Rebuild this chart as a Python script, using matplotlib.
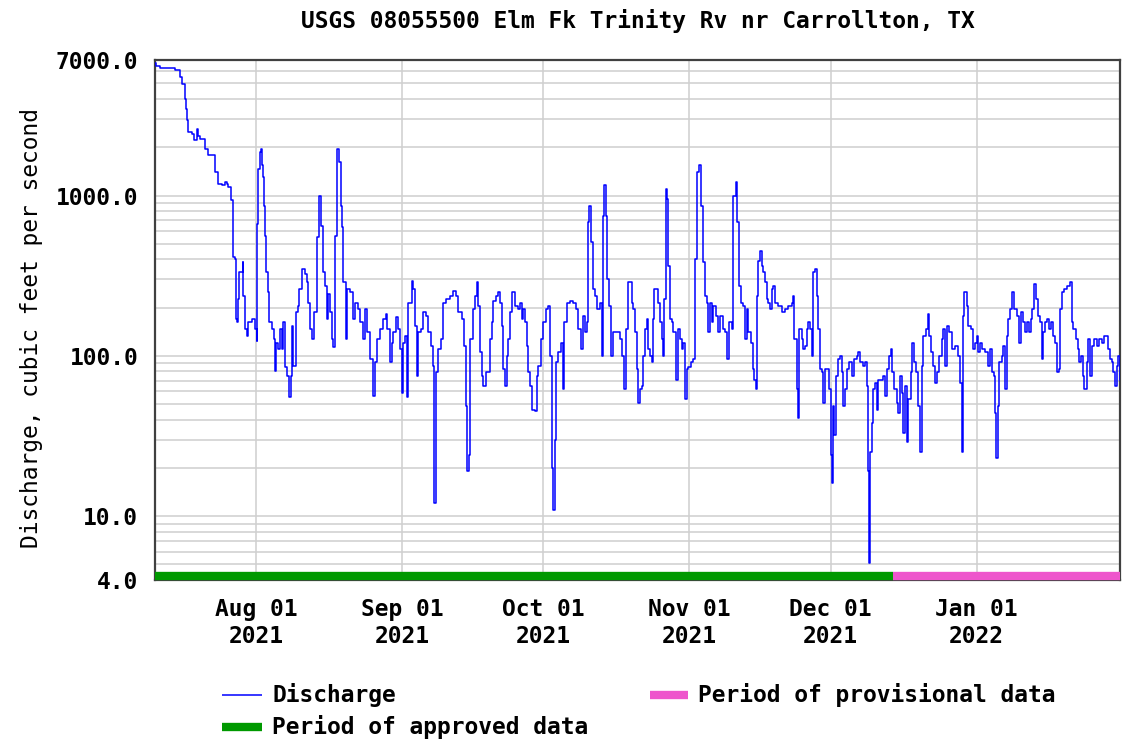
import datetime as dt
import matplotlib
matplotlib.use("Agg")
import matplotlib.pyplot as plt
import matplotlib.dates as mdates
from matplotlib.lines import Line2D
from matplotlib.ticker import FixedLocator, LogLocator, NullFormatter, FuncFormatter

plt.rcParams["font.family"] = "DejaVu Sans Mono"
plt.rcParams["font.weight"] = "bold"
plt.rcParams["font.size"] = 16.5

title = "USGS 08055500 Elm Fk Trinity Rv nr Carrollton, TX"
y_label = "Discharge, cubic feet per second"

# discharge: day of month (fractional) and cfs
jul_day = [10.56, 10.8, 11.5, 13.0, 14.8, 15.15, 15.9, 16.36, 16.93, 17.07, 17.3, 17.63, 18.34,
           18.83, 19.4, 19.75, 20.11, 21.17, 21.88, 23.08, 23.3, 24.0, 24.7, 25.4, 25.77, 26.13,
           26.69, 27.05, 27.1, 27.54, 27.7, 27.8, 28.04, 28.25, 28.46, 28.96, 29.17, 29.31, 29.66,
           30.02, 30.37, 31.08, 31.79]
jul_cfs = [6700, 6450, 6250, 6200, 6100, 6040, 5490, 4990, 4020, 3480, 2940, 2490, 2430,
           2210, 2610, 2350, 2260, 1960, 1780, 1780, 1400, 1180, 1160, 1210, 1180, 1130,
           931, 909, 412, 402, 237, 169, 162, 226, 332, 332, 383, 237, 147,
           133, 162, 169, 147]

aug_day = [1.14, 1.2, 1.5, 1.85, 2.06, 2.27, 2.42, 2.7, 2.91, 3.12, 3.62, 3.83, 4.33, 4.82, 5.03,
           5.25, 5.74, 6.1, 6.45, 6.8, 7.16, 7.65, 8.08, 8.36, 8.57, 8.93, 9.42, 9.85, 10.2, 10.7,
           11.4, 11.76, 12.11, 12.47, 12.96, 13.38, 13.88, 14.38, 14.8, 15.16, 15.65, 16.0, 16.36,
           16.7, 17.07, 17.42, 17.77, 18.27, 18.7, 18.98, 19.33, 19.55, 20.04, 20.4, 20.96, 21.52,
           22.02, 22.73, 23.08, 23.65, 24.14, 24.63, 25.2, 25.77, 26.27, 26.62, 27.33, 27.9, 28.6,
           28.88, 29.45, 29.8, 30.15, 30.72, 31.2, 31.57, 31.93]
aug_cfs = [124, 665, 1468, 1870, 1960, 1540, 1302, 866, 562, 332, 249, 162, 147, 127, 81,
           121, 110, 147, 110, 162, 85, 75, 55, 75, 154, 87, 187, 205, 261, 348,
           324, 287, 215, 147, 127, 187, 549, 1000, 649, 332, 274, 169, 243,
           187, 127, 113, 562, 1960, 1616, 866, 634, 287, 127, 261, 249, 169,
           215, 196, 162, 127, 196, 140, 95, 56, 91, 127, 147, 169, 182,
           147, 91, 121, 140, 174, 147, 110, 59]

sep_day = [1.28, 1.63, 2.0, 2.34, 3.05, 3.4, 3.76, 4.11, 4.46, 5.03, 5.52, 6.09, 6.58, 7.09, 7.52,
           7.79, 7.95, 8.22, 8.7, 9.2, 9.64, 10.34, 11.19, 11.9, 12.46, 12.96, 13.67, 14.16, 14.52,
           14.86, 15.16, 15.44, 16.0, 16.5, 16.86, 17.2, 17.56, 17.91, 18.26, 18.83, 19.32, 19.68,
           20.04, 20.38, 20.96, 21.45, 21.8, 22.16, 22.5, 22.87, 23.23, 23.57, 23.93, 24.42, 24.99,
           25.7, 26.05, 26.4, 26.76, 27.11, 27.47, 27.82, 28.17, 28.53, 29.24, 29.6, 29.94, 30.44]
sep_cfs = [121, 133, 55, 215, 294, 261, 154, 75, 140, 147, 187, 178, 140, 115, 87,
           12, 12, 79, 110, 127, 215, 226, 237, 255, 237, 187, 169, 115, 49,
           19, 24, 127, 196, 237, 287, 205, 105, 75, 65, 79, 79, 127,
           162, 221, 237, 249, 215, 154, 83, 65, 100, 127, 187, 249, 205,
           196, 215, 169, 196, 162, 115, 79, 65, 46, 45, 75, 87, 127]

oct_day = [1.0, 1.57, 1.93, 2.42, 2.78, 3.12, 3.48, 3.69, 4.18, 4.69, 5.12, 5.46, 5.97, 6.67, 7.37,
           7.94, 8.43, 8.94, 9.36, 9.85, 10.21, 10.42, 10.76, 11.12, 11.48, 11.97, 12.46, 13.04,
           13.39, 13.6, 13.89, 14.31, 14.59, 15.0, 15.37, 15.73, 16.58, 17.28, 17.64, 18.13, 18.49,
           19.05, 19.76, 20.11, 20.47, 20.83, 21.17, 21.53, 21.89, 22.23, 22.59, 22.95, 23.3, 23.65,
           24.01, 24.35, 24.5, 25.07, 25.42, 25.77, 26.13, 26.48, 26.69, 26.98, 27.32, 27.54, 27.9,
           28.26, 28.6, 29.17, 29.53, 30.02, 30.38, 30.72, 31.08, 31.44, 31.78]
oct_cfs = [162, 196, 205, 100, 20, 11, 30, 91, 105, 121, 62, 162, 215, 221, 215,
           196, 147, 110, 178, 140, 162, 681, 866, 511, 261, 237, 196, 215,
           100, 750, 1155, 750, 301, 205, 100, 140, 140, 127, 100, 62, 147,
           287, 215, 196, 140, 83, 51, 62, 65, 100, 147, 169, 110, 100,
           91, 169, 261, 261, 215, 162, 127, 100, 226, 1101, 953, 365, 169,
           162, 140, 71, 147, 127, 110, 121, 54, 83, 85]

nov_day = [1.29, 1.85, 2.21, 2.7, 3.12, 3.42, 3.84, 4.33, 4.82, 5.03, 5.39, 5.75, 6.09, 6.66, 7.15,
           7.51, 8.08, 8.58, 9.06, 9.49, 10.0, 10.34, 10.91, 11.19, 11.55, 11.97, 12.46, 12.82,
           13.18, 13.52, 14.03, 14.46, 14.8, 15.16, 15.31, 15.65, 16.01, 16.37, 16.71, 17.07, 17.43,
           17.77, 18.13, 18.49, 18.83, 19.19, 19.9, 20.61, 21.31, 22.02, 22.74, 23.08, 23.29, 23.79,
           24.14, 24.36, 24.86, 25.2, 25.56, 25.92, 26.27, 26.62, 26.98, 27.33, 27.68, 28.04, 28.39,
           28.75, 29.11, 29.45, 29.81, 30.3, 30.73]
nov_cfs = [91, 95, 402, 1399, 1540, 866, 383, 237, 215, 140, 215, 162, 205, 178, 140,
           178, 147, 140, 95, 162, 147, 1000, 1212, 681, 274, 215, 205, 127,
           196, 140, 121, 83, 71, 62, 237, 392, 453, 365, 332, 287, 226,
           215, 196, 261, 274, 215, 205, 187, 196, 205, 215, 237, 127, 62,
           41, 147, 127, 110, 115, 147, 162, 147, 100, 332, 348, 237, 147,
           83, 79, 51, 83, 83, 62]

dec_day = [1.02, 1.23, 1.44, 1.78, 2.14, 2.63, 2.99, 3.35, 3.69, 4.05, 4.41, 4.97, 5.48, 5.96, 6.53,
           6.87, 7.24, 7.81, 8.3, 8.65, 8.99, 9.08, 9.36, 9.72, 10.06, 10.42, 10.78, 11.12, 11.48,
           12.05, 12.55, 12.91, 13.46, 13.76, 13.97, 14.46, 15.03, 15.37, 15.73, 16.09, 16.43, 16.79,
           17.15, 17.49, 18.0, 18.35, 18.7, 19.13, 19.62, 19.98, 20.34, 20.68, 21.25, 21.61, 21.96,
           22.31, 22.8, 23.16, 23.52, 24.08, 24.59, 24.93, 25.28, 25.64, 26.2, 26.71, 27.41, 27.98,
           28.47, 28.83, 29.04, 29.38, 29.89, 30.24, 30.8, 31.3, 31.65]
dec_cfs = [24, 16, 49, 32, 75, 95, 100, 79, 49, 62, 83, 91, 75, 95, 100,
           105, 91, 87, 91, 65, 19, 5.1, 25, 38, 62, 68, 46, 71, 71,
           75, 56, 83, 100, 110, 79, 62, 51, 44, 75, 59, 33, 65,
           29, 54, 79, 121, 91, 79, 49, 25, 87, 133, 147, 182, 133,
           105, 87, 68, 79, 100, 127, 147, 87, 154, 140, 110, 115, 100,
           68, 25, 178, 249, 205, 154, 147, 110, 121]

jan_day = [1.01, 1.36, 1.72, 2.2, 2.78, 3.34, 3.84, 4.19, 4.69, 4.9, 5.11, 5.47, 5.75, 6.32, 6.66,
           7.02, 7.38, 7.72, 8.08, 8.57, 9.0, 9.5, 9.99, 10.42, 10.91, 11.27, 11.63, 12.12, 12.54,
           12.82, 13.25, 13.61, 13.97, 14.45, 14.94, 15.16, 15.52, 15.88, 16.37, 16.79, 17.28, 17.64,
           18.0, 18.49, 18.7, 19.06, 19.61, 20.12, 20.46, 20.82, 21.18, 21.53, 22.03, 22.46, 22.73,
           23.16, 23.52, 23.86, 24.37, 24.71, 25.07, 25.43, 25.98, 26.49, 26.98, 27.55, 28.11, 28.62,
           28.96, 29.32, 29.68, 30.02, 30.38, 30.74, 31.08, 31.44]
jan_cfs = [133, 105, 121, 110, 105, 87, 110, 79, 75, 44, 23, 49, 91, 100, 115,
           62, 133, 169, 196, 249, 196, 178, 121, 187, 162, 140, 162, 140, 169,
           196, 281, 226, 178, 162, 95, 140, 162, 169, 147, 162, 133, 121,
           79, 83, 196, 249, 261, 274, 274, 287, 162, 147, 127, 110, 91,
           100, 75, 62, 91, 127, 75, 115, 127, 115, 127, 121, 133, 133,
           110, 95, 91, 79, 65, 87, 100, 71]

y_ticks = [4, 10, 100, 1000, 7000]
x_start = dt.datetime(2021, 7, 10, 13)
x_end = dt.datetime(2022, 1, 31, 11)
approved_end = dt.datetime(2021, 12, 14, 5)


def month_dates(year, month, days):
    first = dt.datetime(year, month, 1)
    return [first + dt.timedelta(days=d - 1) for d in days]


months = [(2021, 7, jul_day, jul_cfs), (2021, 8, aug_day, aug_cfs), (2021, 9, sep_day, sep_cfs),
          (2021, 10, oct_day, oct_cfs), (2021, 11, nov_day, nov_cfs), (2021, 12, dec_day, dec_cfs),
          (2022, 1, jan_day, jan_cfs)]
times, flow = [], []
for yr, mo, days, cfs in months:
    times += month_dates(yr, mo, days)
    flow += cfs

W, H = 1140, 740
fig = plt.figure(figsize=(W / 100, H / 100), dpi=100)
ax = fig.add_axes([155 / W, 1 - 580 / H, 965 / W, 520 / H])

ax.plot(times, flow, color="#0000ff", lw=1.1, drawstyle="steps-post", zorder=3)

ax.set_yscale("log")
ax.set_ylim(4, 7000)
ax.set_xlim(x_start, x_end)
ax.yaxis.set_major_locator(FixedLocator(y_ticks))
ax.yaxis.set_major_formatter(FuncFormatter(lambda v, p: f"{v:.1f}"))
ax.yaxis.set_minor_locator(LogLocator(base=10, subs=range(2, 10)))
ax.yaxis.set_minor_formatter(NullFormatter())
ax.xaxis.set_major_locator(mdates.MonthLocator())
ax.xaxis.set_major_formatter(mdates.DateFormatter("%b %d\n%Y"))
ax.tick_params(which="both", length=0)
ax.tick_params(axis="x", pad=13)
ax.tick_params(axis="y", pad=12)

ax.grid(which="major", color="#d0d0d0", lw=1.15)
ax.grid(which="minor", axis="y", color="#d0d0d0", lw=1.15)
ax.set_axisbelow(True)
for s in ax.spines.values():
    s.set_color("#404040")
    s.set_linewidth(1.6)

# approved / provisional bar along the bottom
bar = dict(transform=ax.get_xaxis_transform(), lw=6, solid_capstyle="butt", zorder=4, clip_on=False)
ax.plot([x_start, approved_end], [0.008, 0.008], color="#009900", **bar)
ax.plot([approved_end, x_end], [0.008, 0.008], color="#ee55cc", **bar)

ax.set_title(title, pad=23, fontsize=16.5, fontweight="bold")
ax.set_ylabel(y_label)
ax.yaxis.set_label_coords(-0.116, 0.485)

# legend drawn by hand to match the two-column layout
def legend_item(x0, x1, y, color, lw, label):
    fig.add_artist(Line2D([x0 / W, x1 / W], [1 - y / H, 1 - y / H], color=color, lw=lw,
                          solid_capstyle="butt", transform=fig.transFigure))
    fig.text((x1 + 10) / W, 1 - y / H, label, ha="left", va="center")

legend_item(222, 262, 695, "#0000ff", 1.1, "Discharge")
legend_item(222, 262, 727, "#009900", 6, "Period of approved data")
legend_item(650, 688, 695, "#ee55cc", 6, "Period of provisional data")

fig.savefig("out.png", dpi=100)
